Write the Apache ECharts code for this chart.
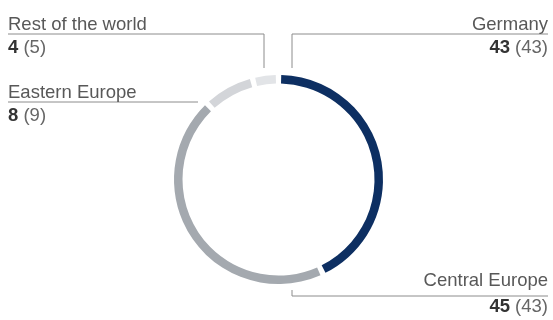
<!DOCTYPE html>
<html>
<head>
<meta charset="utf-8">
<script src="https://cdn.jsdelivr.net/npm/echarts@6/dist/echarts.min.js"></script>
<style>
  html, body { margin: 0; padding: 0; background: #fff; }
  #chart { width: 553px; height: 320px; }
</style>
</head>
<body>
<div id="chart"></div>
<script>
// share in %, current year and (previous year)
var regions = ["Germany", "Central Europe", "Eastern Europe", "Rest of the world"];
var shares = [43, 45, 8, 4];
var prevShares = [43, 43, 9, 5];
var colors = ["#0d2f62", "#a4a9af", "#d3d5d9", "#e2e4e7"];

// where each label sits and how its leader line runs
var labelPos = [
  { x: 548, y: 13, lh: 23.3, align: "right", line: [[292, 68], [292, 34], [548, 34]] },
  { x: 548, y: 268, lh: 26, align: "right", line: [[292, 290], [292, 296], [548, 296]] },
  { x: 8, y: 81, lh: 23.3, align: "left", line: [[198, 102], [8, 102]] },
  { x: 8, y: 13, lh: 23.3, align: "left", line: [[264, 68], [264, 34], [8, 34]] }
];

function makeRich(lh) {
  var font = "Liberation Sans";
  return {
    name: { fontSize: 18.5, color: "#585858", lineHeight: lh, fontFamily: font },
    val: { fontSize: 18.5, color: "#333", fontWeight: "bold", lineHeight: lh, fontFamily: font },
    prev: { fontSize: 18.5, color: "#666", lineHeight: lh, fontFamily: font }
  };
}

var chart = echarts.init(document.getElementById("chart"));

chart.setOption({
  animation: false,
  series: [
    {
      type: "pie",
      center: [278.5, 179.5],
      radius: [96, 104.5],
      startAngle: 90,
      clockwise: true,
      padAngle: 3,
      avoidLabelOverlap: false,
      silent: true,
      data: regions.map(function (name, i) {
        return {
          name: name,
          value: shares[i],
          itemStyle: { color: colors[i] },
          label: { rich: makeRich(labelPos[i].lh) }
        };
      }),
      label: {
        show: true,
        position: "outside",
        fontFamily: "Liberation Sans",
        formatter: function (p) {
          return "{name|" + p.name + "}\n{val|" + p.value + "}{prev| (" + prevShares[p.dataIndex] + ")}";
        }
      },
      labelLine: {
        show: true,
        lineStyle: { color: "#8c8c8c", width: 1 }
      },
      labelLayout: function (params) {
        var pos = labelPos[params.dataIndex];
        return {
          x: pos.x,
          y: pos.y,
          align: pos.align,
          verticalAlign: "top",
          labelLinePoints: pos.line
        };
      }
    }
  ]
});
</script>
</body>
</html>
